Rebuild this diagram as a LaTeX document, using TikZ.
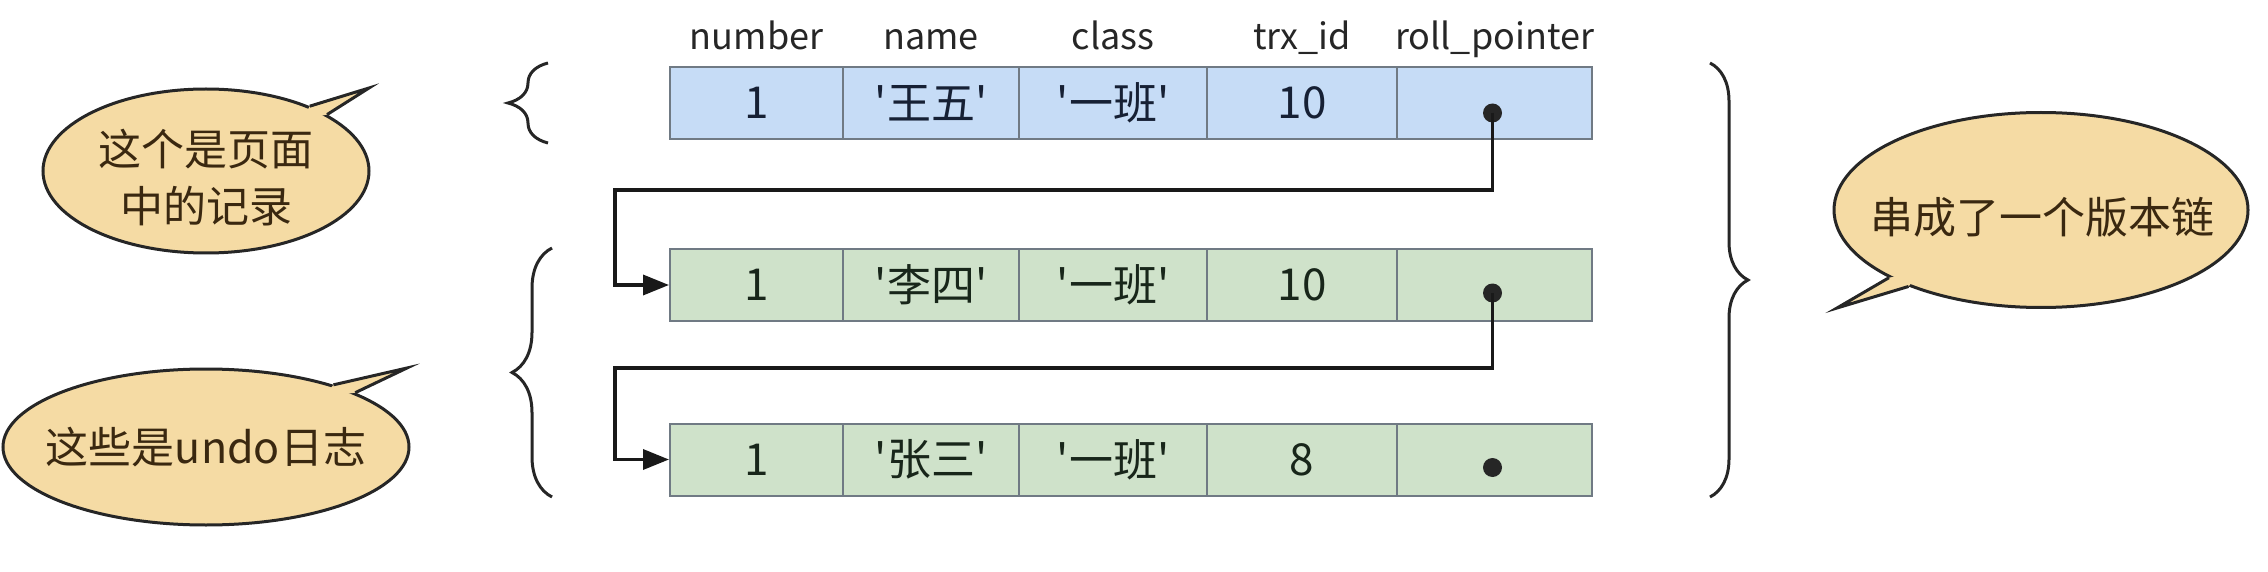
\documentclass[tikz,border=0pt]{standalone}
\usepackage{fontspec}
\setmainfont{Noto Sans CJK SC}
\usetikzlibrary{arrows.meta,calc,shapes.geometric,decorations.pathreplacing}
\definecolor{rowblue}{RGB}{198,220,246}
\definecolor{rowgreen}{RGB}{207,226,202}
\definecolor{cellline}{RGB}{112,122,132}
\definecolor{bubblefill}{RGB}{245,219,164}
\definecolor{bubbletext}{RGB}{58,40,16}
\definecolor{celltext}{RGB}{22,32,52}
\definecolor{greentext}{RGB}{24,38,26}
\newcommand\sqt{\textquotesingle}
\begin{document}
\begin{tikzpicture}[x=1pt,y=-1pt,
  cell/.style={draw=cellline, line width=2pt, minimum height=72pt, inner sep=0pt, font=\fontsize{44}{48}\selectfont},
  bluecell/.style={cell, fill=rowblue, text=celltext},
  greencell/.style={cell, fill=rowgreen, text=greentext},
  head/.style={font=\fontsize{36}{40}\selectfont, text=black!85, anchor=base, inner sep=0pt},
  ptr/.style={circle, fill=black!85, minimum size=19pt, inner sep=0pt},
  conn/.style={line width=3.5pt, draw=black!90, -{Triangle[length=26pt,width=20pt]}},
  bubble/.style={ellipse, draw=black!85, line width=3pt, fill=bubblefill, inner sep=0pt},
  tailside/.style={draw=black!85, line width=3pt, line join=miter},
  bubtext/.style={text=bubbletext, font=\fontsize{43}{57}\selectfont, align=center, inner sep=0pt},
  curly/.style={decorate, line width=3pt, draw=black!85}
]
\useasboundingbox (0,0) rectangle (2268,572);

% headers
\node[head] (h1) at (756.5,50) {number};
\node[head] (h2) at (931,50) {name};
\node[head] (h3) at (1113,50) {class};
\node[head] (h4) at (1302,50) {trx\_id};
\node[head] (h5) at (1494.5,50) {roll\_pointer};

% row 1
\node[bluecell, minimum width=173pt] (a1) at (756.5,103) {1};
\node[bluecell, minimum width=176pt] (a2) at (931,103) {\sqt 王五\sqt};
\node[bluecell, minimum width=188pt] (a3) at (1113,103) {\sqt 一班\sqt};
\node[bluecell, minimum width=190pt] (a4) at (1302,103) {10};
\node[bluecell, minimum width=195pt] (a5) at (1494.5,103) {};
% row 2
\node[greencell, minimum width=173pt] (b1) at (756.5,285) {1};
\node[greencell, minimum width=176pt] (b2) at (931,285) {\sqt 李四\sqt};
\node[greencell, minimum width=188pt] (b3) at (1113,285) {\sqt 一班\sqt};
\node[greencell, minimum width=190pt] (b4) at (1302,285) {10};
\node[greencell, minimum width=195pt] (b5) at (1494.5,285) {};
% row 3
\node[greencell, minimum width=173pt] (c1) at (756.5,459.5) {1};
\node[greencell, minimum width=176pt] (c2) at (931,459.5) {\sqt 张三\sqt};
\node[greencell, minimum width=188pt] (c3) at (1113,459.5) {\sqt 一班\sqt};
\node[greencell, minimum width=190pt] (c4) at (1302,459.5) {8};
\node[greencell, minimum width=195pt] (c5) at (1494.5,459.5) {};

% pointer dots
\node[ptr] (d1) at ($(a5.center)+(-2,10)$) {};
\node[ptr] (d2) at ($(b5.center)+(-2,8)$) {};
\node[ptr] (d3) at ($(c5.center)+(-2,8)$) {};

% connectors
\coordinate (k1) at (615,190);
\coordinate (k2) at (615,368);
\draw[conn] (d1.center) |- (k1) |- (b1.west);
\draw[conn] (d2.center) |- (k2) |- (c1.west);

% braces
\draw[curly, decoration={brace, amplitude=40pt}] (548,143) -- (548,63);
\draw[curly, decoration={brace, amplitude=40pt}] (552,497) -- (552,248);
\draw[curly, decoration={brace, amplitude=38pt}] (1710,63) -- (1710,497);

% callout 1
\node[bubble, minimum width=326pt, minimum height=164pt] (e1) at (206,171) {};
\coordinate (t1) at (369,88);
\fill[bubblefill] (e1.32) -- (t1) -- (e1.25) -- ($(e1.center)!0.85!(e1.28)$) -- cycle;
\draw[tailside] (e1.32) -- (t1) -- (e1.25);
\node[bubtext] (x1) at (206,178) {这个是页面\\中的记录};

% callout 2
\node[bubble, minimum width=406pt, minimum height=156pt] (e2) at (206,447) {};
\coordinate (t2) at (407,368);
\fill[bubblefill] (e2.26) -- (t2) -- (e2.20) -- ($(e2.center)!0.85!(e2.23)$) -- cycle;
\draw[tailside] (e2.26) -- (t2) -- (e2.20);
\node[bubtext] (x2) at (206,447) {这些是undo日志};

% callout 3
\node[bubble, minimum width=414pt, minimum height=195pt] (e3) at (2041,210) {};
\coordinate (t3) at (1837,308);
\fill[bubblefill] (e3.204) -- (t3) -- (e3.210) -- ($(e3.center)!0.85!(e3.207)$) -- cycle;
\draw[tailside] (e3.204) -- (t3) -- (e3.210);
\node[bubtext] (x3) at (2042,217) {串成了一个版本链};
\end{tikzpicture}
\end{document}
